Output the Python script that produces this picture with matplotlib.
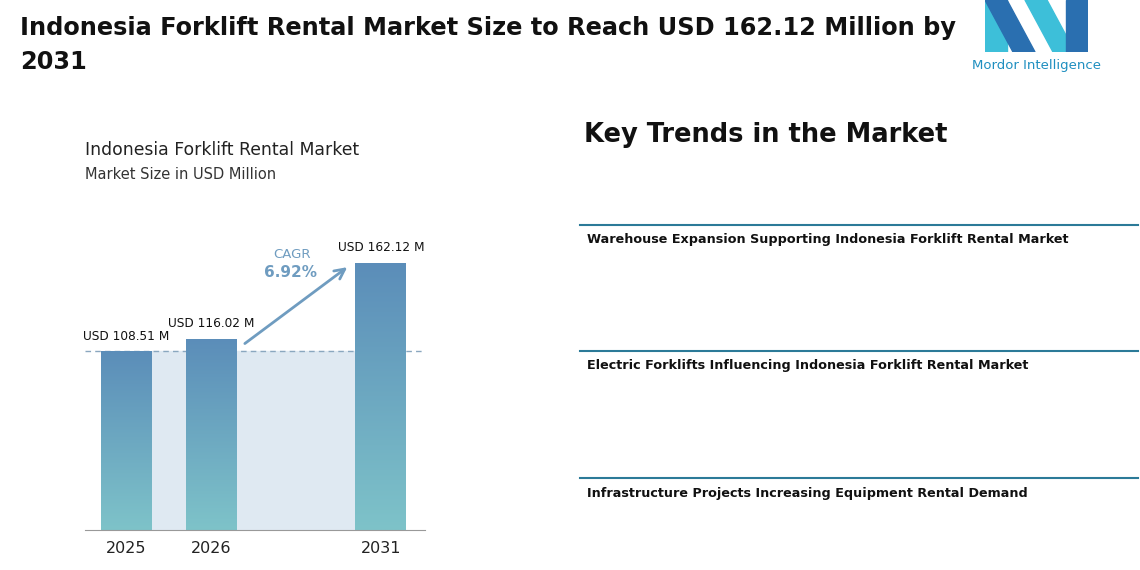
import matplotlib

matplotlib.use("Agg")
import matplotlib.pyplot as plt
import numpy as np
from matplotlib.patches import Polygon, Rectangle

years = ["2025", "2026", "2031"]
positions = [0, 1, 3]
values = [108.51, 116.02, 162.12]
value_labels = ["USD 108.51 M", "USD 116.02 M", "USD 162.12 M"]
cagr = "6.92%"
trends = [
    "Warehouse Expansion Supporting Indonesia Forklift Rental Market",
    "Electric Forklifts Influencing Indonesia Forklift Rental Market",
    "Infrastructure Projects Increasing Equipment Rental Demand",
]

W, H = 1140, 570
fig = plt.figure(figsize=(W / 100, H / 100), dpi=100)
fig.patch.set_facecolor("white")


def fx(px):
    return px / W


def fy(py):
    return 1 - py / H


fig.text(fx(20), fy(28), "Indonesia Forklift Rental Market Size to Reach USD 162.12 Million by",
         fontsize=17.3, fontweight="bold", va="center", color="#111111")
fig.text(fx(20), fy(62), "2031", fontsize=17.3, fontweight="bold", va="center", color="#111111")

# logo
logo = fig.add_axes([fx(985), fy(52), fx(103), fy(0) - fy(52)])
logo.set_xlim(0, 103)
logo.set_ylim(52, 0)
logo.axis("off")
logo.add_patch(Polygon([(0, 52), (0, 0), (22, 0), (22, 52)], color="#3dbfd9"))
logo.add_patch(Polygon([(0, 0), (22, 0), (50, 52), (28, 52)], color="#2a6fb0"))
logo.add_patch(Polygon([(40, 0), (62, 0), (90, 52), (68, 52)], color="#3dbfd9"))
logo.add_patch(Polygon([(81, 0), (103, 0), (103, 52), (81, 52)], color="#2a6fb0"))
fig.text(fx(1037), fy(66), "Mordor Intelligence", fontsize=9.5, ha="center", va="center", color="#1f8fc0")

# chart
fig.text(fx(85), fy(150), "Indonesia Forklift Rental Market", fontsize=12.4, va="center", color="#222222")
fig.text(fx(85), fy(174), "Market Size in USD Million", fontsize=10.5, va="center", color="#333333")

ax = fig.add_axes([fx(85), fy(530), fx(425) - fx(85), fy(200) - fy(530)])
ax.set_xlim(-0.488, 3.52)
ax.set_ylim(0, 200)
for s in ["top", "right", "left"]:
    ax.spines[s].set_visible(False)
ax.spines["bottom"].set_color("#999999")
ax.set_yticks([])
ax.set_xticks(positions)
ax.set_xticklabels(years, fontsize=11.5, color="#222222")
ax.tick_params(axis="x", length=0, pad=8)

width = 0.6
ax.add_patch(Rectangle((positions[0] + width / 2, 0), positions[2] - positions[0] - width, values[0],
                       color="#dfe9f2", zorder=0))
ax.axhline(values[0], color="#8aa7bf", linestyle=(0, (4, 3)), linewidth=1, zorder=1)

grad = np.linspace(0, 1, 256).reshape(-1, 1)
cmap = matplotlib.colors.LinearSegmentedColormap.from_list("b", ["#7ec3c9", "#5b8db9"])
bars = ax.bar(positions, values, width=width, color="none", zorder=2)
for bar, lab in zip(bars, value_labels):
    x0, h = bar.get_x(), bar.get_height()
    im = ax.imshow(grad, extent=[x0, x0 + width, 0, h], origin="lower", cmap=cmap,
                   aspect="auto", zorder=2)
    im.set_clip_path(bar)
    ax.text(x0 + width / 2, h + 5, lab, ha="center", va="bottom", fontsize=8.7, color="#111111")

ax.annotate("", xy=(2.63, 160.3), xytext=(1.37, 112),
            arrowprops=dict(arrowstyle="->", color="#6f9cc0", lw=2, mutation_scale=18))
ax.text(1.95, 167, "CAGR", ha="center", va="center", fontsize=9.5, color="#6f9cc0")
ax.text(1.93, 156, cagr, ha="center", va="center", fontsize=11, fontweight="bold", color="#6f9cc0")

# key trends
fig.text(fx(584), fy(135), "Key Trends in the Market", fontsize=18.5, fontweight="bold", va="center",
         color="#111111")
for py, t in zip([225, 351, 478], trends):
    fig.add_artist(plt.Line2D([fx(580), fx(1138)], [fy(py), fy(py)], color="#2b7a98", lw=1.5))
    fig.text(fx(587), fy(py + 15), t, fontsize=9.2, fontweight="bold", va="center", color="#111111")

fig.savefig("out.png", dpi=100)
